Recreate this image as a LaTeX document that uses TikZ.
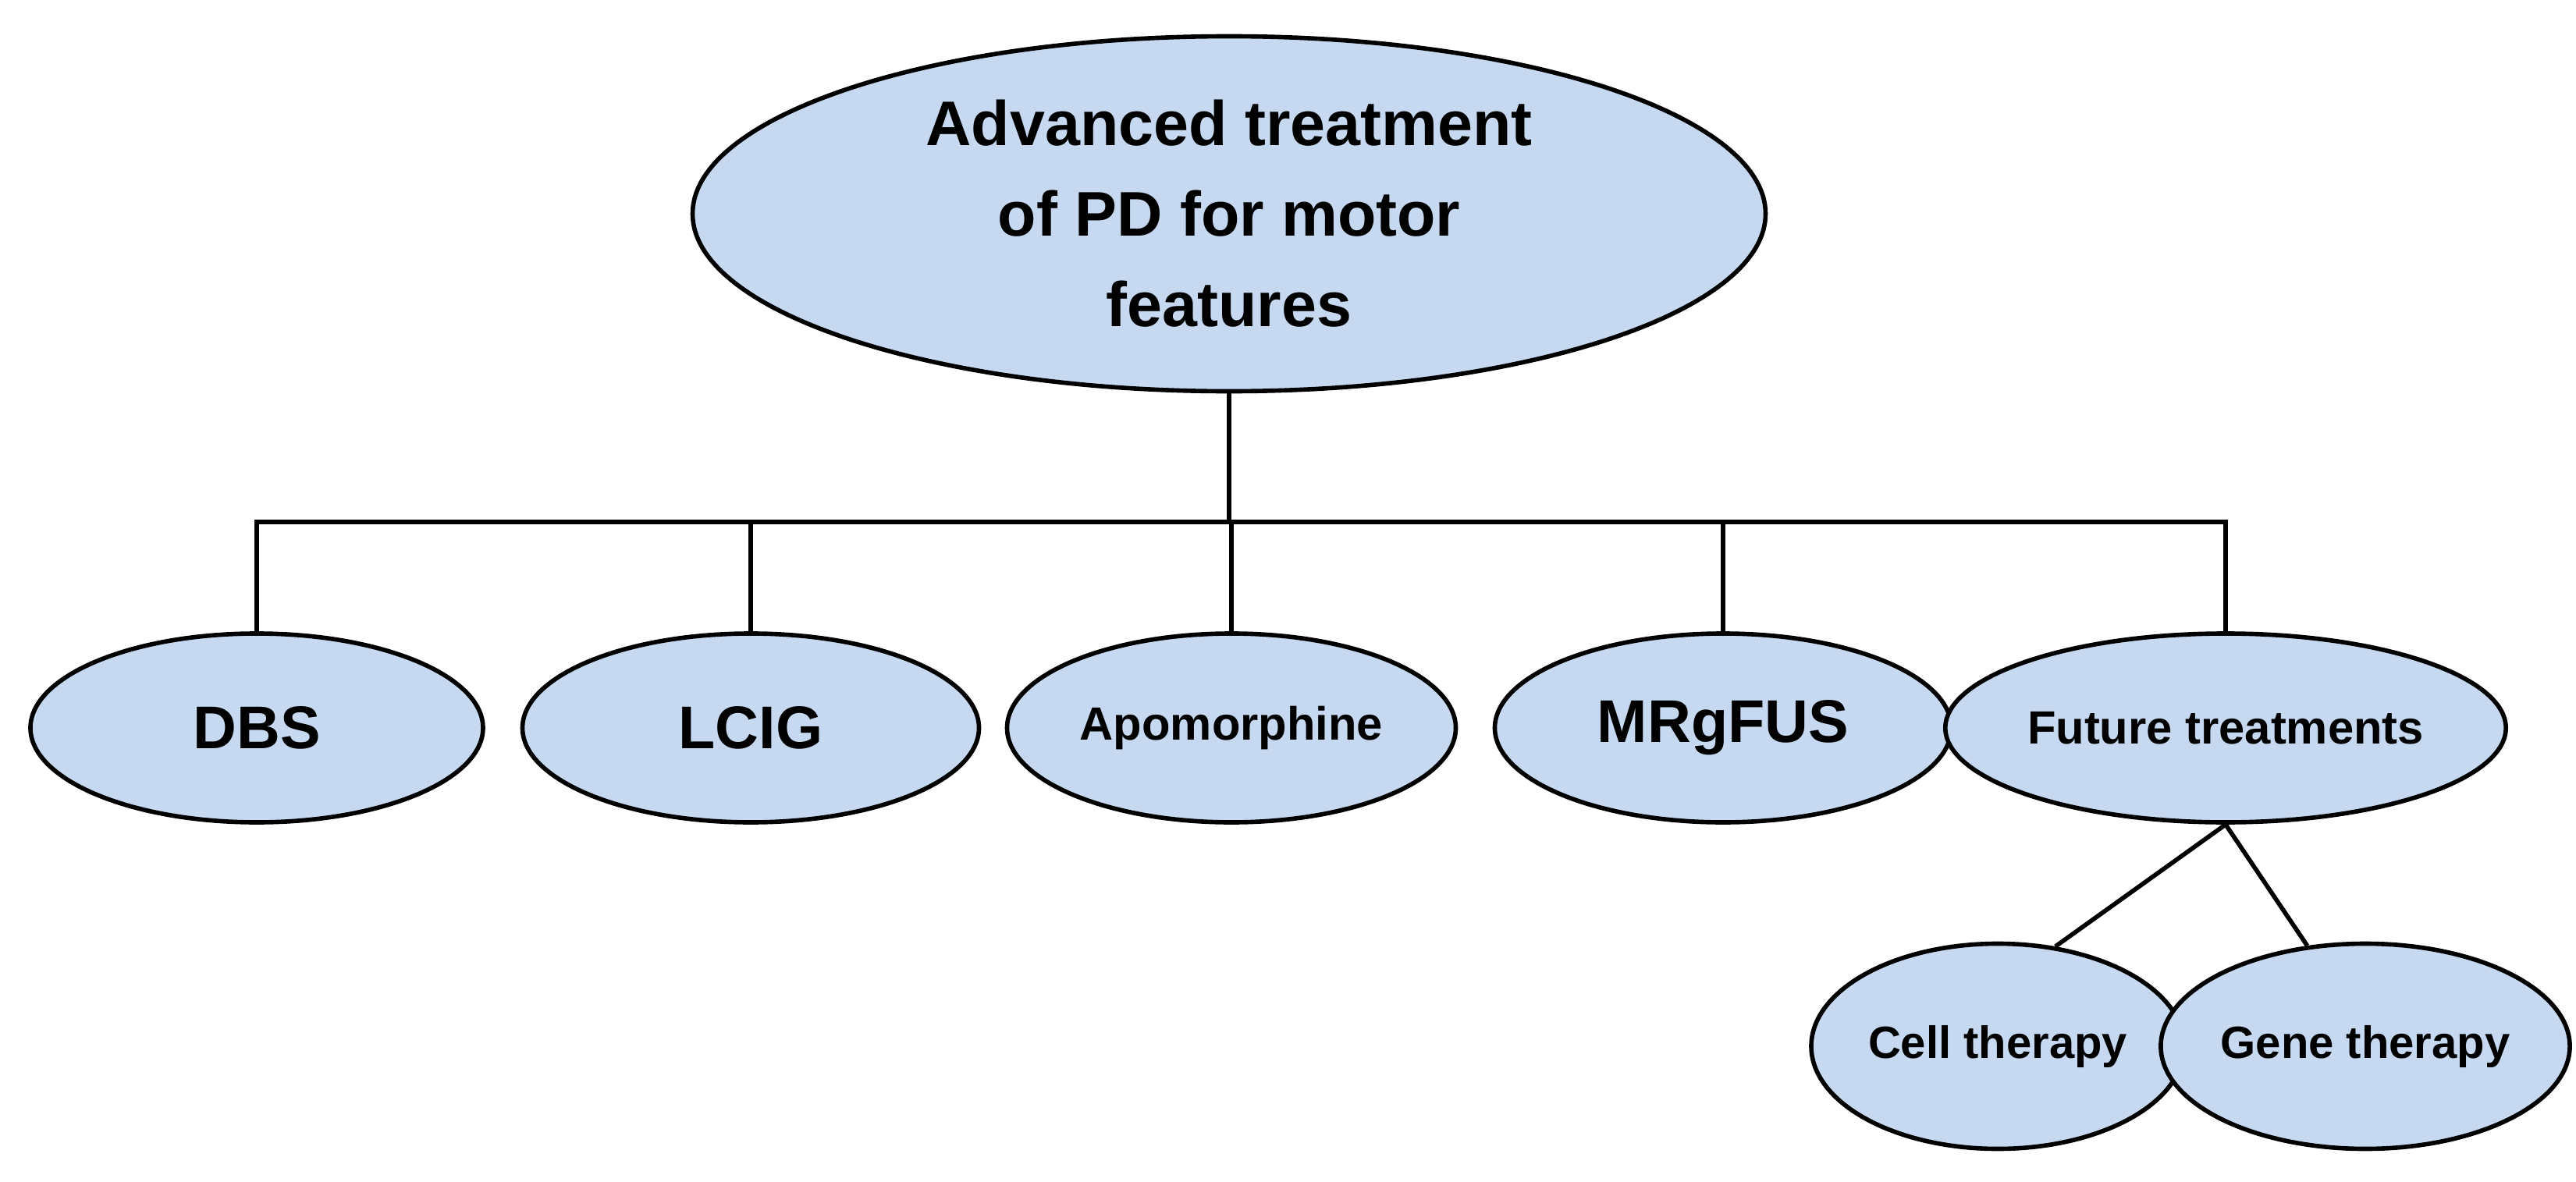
\documentclass[tikz,border=0pt]{standalone}
\usepackage{fontspec}
\setmainfont{Liberation Sans}
\usetikzlibrary{shapes,shapes.geometric,calc,positioning}
\definecolor{tfill}{HTML}{C6D9F1}
\tikzset{
  tnode/.style={ellipse, draw=black, line width=1.6pt, fill=tfill, inner sep=0pt, align=center, font=\bfseries},
  root/.style={tnode, minimum width=13.75cm, minimum height=4.55cm, font=\bfseries\fontsize{23}{33}\selectfont},
  leaf/.style={tnode, minimum width=5.8cm, minimum height=2.42cm},
  small/.style={tnode, minimum height=2.63cm},
  link/.style={draw=black, line width=1.6pt}
}
\begin{document}
\begin{tikzpicture}
\useasboundingbox (0,0) rectangle (33.01,15.14);
% root and first level
\node[root] (adv) at (15.75,12.40) {Advanced treatment\\of PD for motor\\features};
\coordinate (bar) at (0,8.45);
\node[leaf, font=\bfseries\fontsize{22}{26}\selectfont] (dbs) at (3.29,5.81) {DBS};
\node[leaf, minimum width=5.85cm, font=\bfseries\fontsize{22}{26}\selectfont] (lcig) at (9.62,5.81) {LCIG};
\node[leaf, minimum width=5.75cm, font=\bfseries\fontsize{17}{20}\selectfont] (apo) at (15.78,5.81) {Apomorphine};
\node[leaf, minimum width=5.85cm, font=\bfseries\fontsize{22}{26}\selectfont] (mrg) at (22.08,5.81) {MRgFUS};
\node[leaf, minimum width=6.95cm, font=\bfseries\fontsize{17}{20}\selectfont] (fut) at (28.52,5.81) {Future treatments};
% second level
\node[small, minimum width=4.78cm, font=\bfseries\fontsize{16.5}{20}\selectfont] (cell) at (25.60,1.73) {Cell therapy};
\node[small, minimum width=4.63cm, font=\bfseries\fontsize{16.5}{20}\selectfont] (gene) at (30.31,1.73) {Gene therapy};
% connectors
\path[link] (adv.south) -- (adv.south|-bar);
\path[link] (dbs.north) -- (dbs.north|-bar) -- (fut.north|-bar) -- (fut.north);
\path[link] (lcig.north) -- (lcig.north|-bar);
\path[link] (apo.north) -- (apo.north|-bar);
\path[link] (mrg.north) -- (mrg.north|-bar);
\path[link] (fut.south) -- (cell.60);
\path[link] (fut.south) -- (gene.120);
\end{tikzpicture}
\end{document}
